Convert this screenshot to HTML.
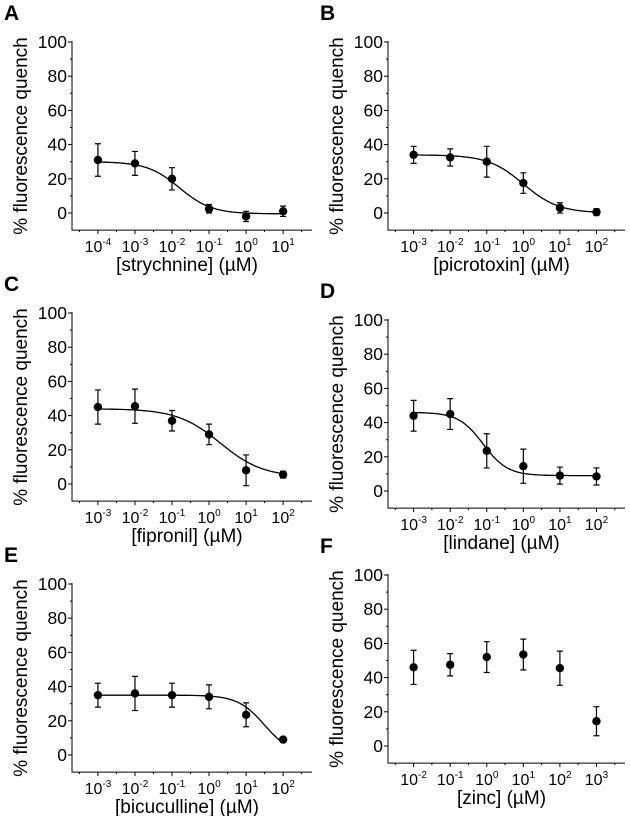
<!DOCTYPE html>
<html><head><meta charset="utf-8"><style>
body{margin:0;background:#fff}
svg{display:block;font-family:"Liberation Sans",Arial,sans-serif}
</style></head><body>
<svg id="c" width="630" height="816" viewBox="0 0 630 816"></svg>
<script>
const panelLetters=["A","B","C","D","E","F"];
const xTitles=["[strychnine] (µM)","[picrotoxin] (µM)","[fipronil] (µM)","[lindane] (µM)","[bicuculline] (µM)","[zinc] (µM)"];
const xLogs=[[-4,-3,-2,-1,0,1],[-3,-2,-1,0,1,2],[-3,-2,-1,0,1,2],[-3,-2,-1,0,1,2],[-3,-2,-1,0,1,2],[-2,-1,0,1,2,3]];
const yVals=[[31,29,20,2.5,-2,1],[34,32.5,30,17.5,3,0.5],[45,45.5,37,29,8,5.5],[44,45,23.5,14.5,9,8.5],[35,36,35,34,23.5,9],[46,47.5,52,53.5,45.5,14.5]];
const yErrs=[[9.5,7,6.5,2.5,3,3],[5,5,9,6,3,2],[10,10,6,6,9,2],[9,9,10,10,5,5],[7,10,7,7,7,1],[10,6.5,9,9,10,8.5]];
const fitTop=[30,34,44,46,35,null];
const fitBottom=[-0.5,0,4,9,0,null];
const fitLogIC50=[-1.8,0,0.3,-1.1,1.5,null];
const fitHill=[1,0.9,0.75,1.3,1.2,null];
const yTicks=[0,20,40,60,80,100];
const NS="http://www.w3.org/2000/svg";
const svg=document.getElementById("c");
function mk(t,a,p){const e=document.createElementNS(NS,t);for(const k in a)e.setAttribute(k,a[k]);(p||svg).appendChild(e);return e;}
const geo=[{ax:72,w:240,y100:42,lx:4,ly:20},{ax:388,w:237,y100:42,lx:320,ly:20},
{ax:72,w:240,y100:313,lx:4,ly:291},{ax:388,w:237,y100:320,lx:320,ly:298},
{ax:72,w:240,y100:584,lx:4,ly:562},{ax:388,w:237,y100:575,lx:320,ly:553}];
const S=1.71;
for(let p=0;p<6;p++){
 const g=geo[p];const grp=mk("g",{});
 
 
 const xs=xLogs[p];const x0=xs[0]-0.7, x1=xs[xs.length-1]+0.78;
 const X=v=>g.ax+(v-x0)/(x1-x0)*g.w;
 const Y=v=>g.y100+(100-v)*S;
 const yb=Y(-10);
 const lt=mk("text",{x:g.lx,y:g.ly,"font-size":21,"font-weight":"bold"},grp);lt.textContent=panelLetters[p];
 
 const axes=mk("path",{d:`M${g.ax},${Y(100)-1}V${yb}H${g.ax+g.w}`,stroke:"#000","stroke-width":1,fill:"none"},grp);
 
 for(const t of yTicks){
  mk("line",{x1:g.ax-4,x2:g.ax,y1:Y(t),y2:Y(t),stroke:"#000"},grp);
  if(t<100)mk("line",{x1:g.ax-2,x2:g.ax,y1:Y(t+10),y2:Y(t+10),stroke:"#000"},grp);
  const tl=mk("text",{x:g.ax-5,y:Y(t)+6,"font-size":17.5,"text-anchor":"end"},grp);tl.textContent=t;
  
 }
 for(let d=Math.floor(x0);d<=x1;d++){
  if(d>=x0){mk("line",{x1:X(d),x2:X(d),y1:yb,y2:yb+4,stroke:"#000"},grp);}
  if(d+0.5>=x0&&d+0.5<=x1)mk("line",{x1:X(d+0.5),x2:X(d+0.5),y1:yb,y2:yb+2,stroke:"#000"},grp);
 }
 for(const d of xs){
  const tl=mk("text",{x:X(d),y:yb+22,"font-size":16,"text-anchor":"middle"},grp);
  tl.innerHTML='10<tspan dy="-7" font-size="10">'+d+'</tspan>';
  
 }
 const xt=mk("text",{x:g.ax+g.w/2-5,y:yb+41,"font-size":19,"text-anchor":"middle"},grp);xt.textContent=xTitles[p];
 
 const cy=(Y(100)+yb)/2, cx=g.ax-45;
 const yt=mk("text",{x:cx,y:cy,"font-size":19,"text-anchor":"middle",transform:`rotate(-90 ${cx} ${cy})`},grp);yt.textContent="% fluorescence quench";
 
 if(fitTop[p]!==null){
  let d="";for(let i=0;i<=120;i++){const lx=xs[0]+(xs[xs.length-1]-xs[0])*i/120;
   const v=fitBottom[p]+(fitTop[p]-fitBottom[p])/(1+Math.pow(10,(lx-fitLogIC50[p])*fitHill[p]));
   d+=(i?"L":"M")+X(lx).toFixed(1)+","+Y(v).toFixed(1);}
  const fl=mk("path",{d:d,stroke:"#000","stroke-width":1.3,fill:"none"},grp);
  
 }
 for(let i=0;i<xs.length;i++){
  const px=X(xs[i]),py=Y(yVals[p][i]),e=yErrs[p][i]*S;
  const eb=mk("path",{d:`M${px},${py-e}V${py+e}M${px-3},${py-e}H${px+3}M${px-3},${py+e}H${px+3}`,stroke:"#000","stroke-width":1.2,fill:"none"},grp);
  
  const pt=mk("circle",{cx:px,cy:py,r:4.2,fill:"#000"},grp);
  
 }
}
</script>
</body></html>
